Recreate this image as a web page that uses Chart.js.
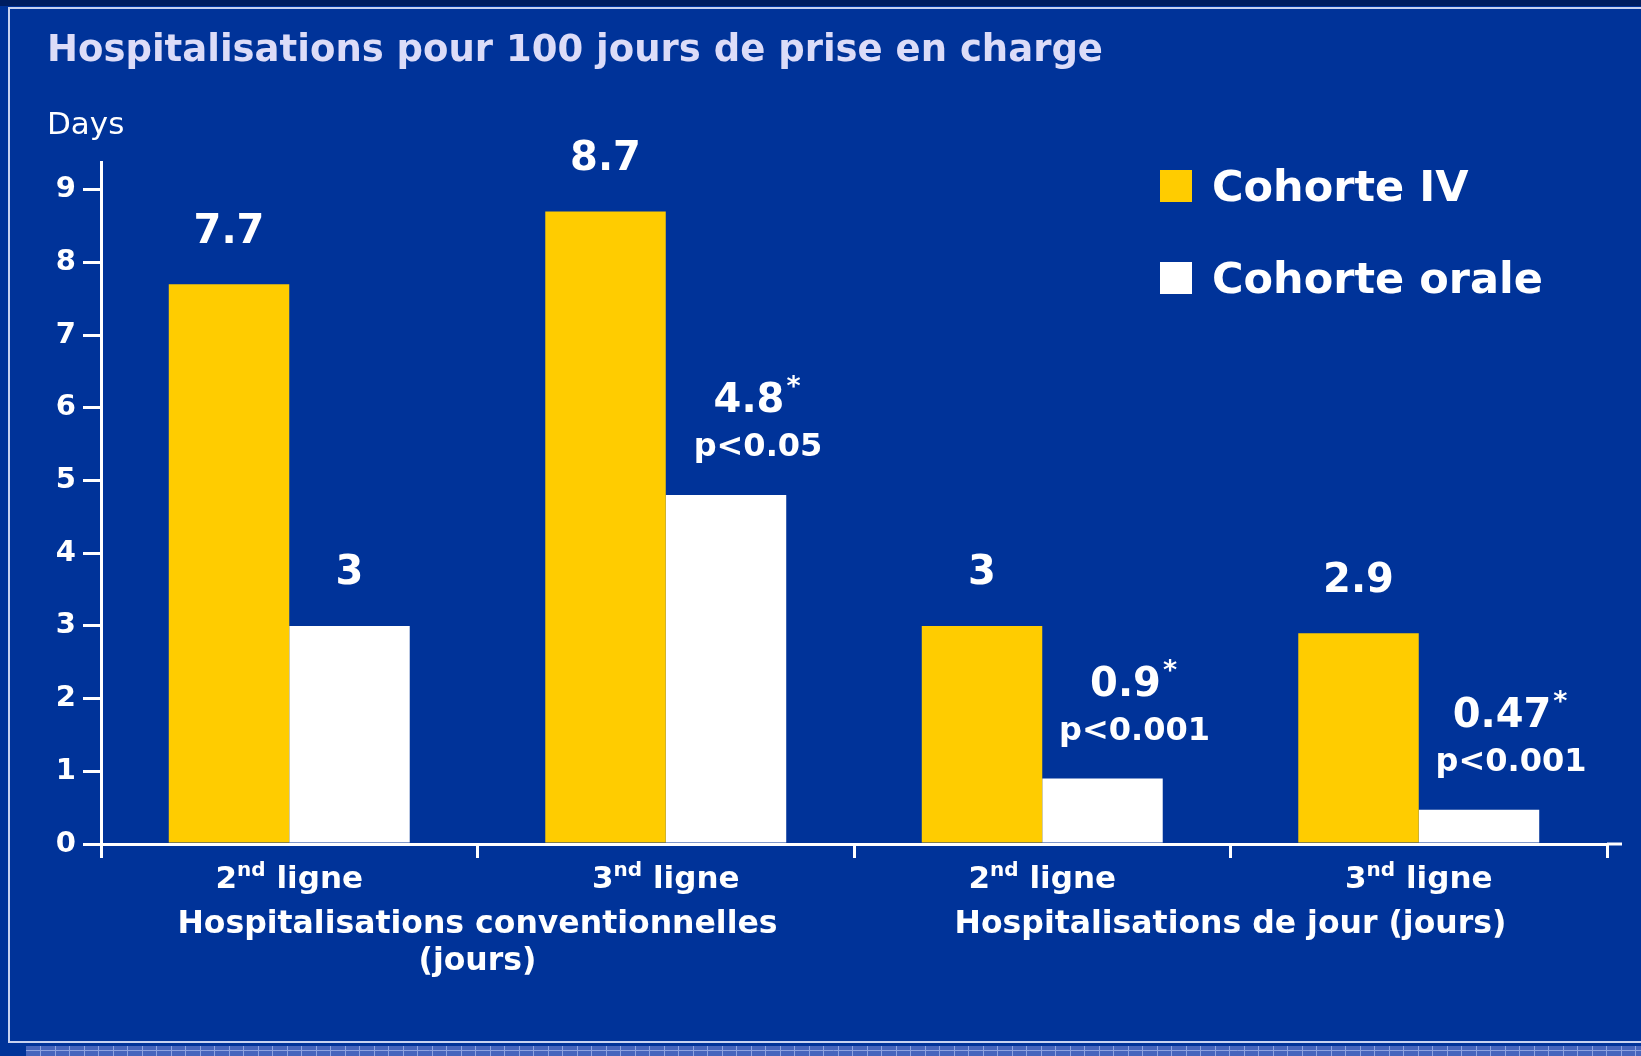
<!DOCTYPE html>
<html>
<head>
<meta charset="utf-8">
<title>Hospitalisations pour 100 jours de prise en charge</title>
<script src="https://cdn.jsdelivr.net/npm/chart.js@4.4.1/dist/chart.umd.min.js"></script>
<style>
    body { margin: 0; background: #003399; overflow: hidden; }
    #wrap { width: 1641px; height: 1056px; }
</style>
</head>
<body>
<div id="wrap"><canvas id="myChart" width="1641" height="1056"></canvas></div>
<script>
const chartTitle = 'Hospitalisations pour 100 jours de prise en charge';
const yAxisTitle = 'Days';
const categories = ['2nd ligne', '3nd ligne', '2nd ligne', '3nd ligne'];
const groupTitles = [['Hospitalisations conventionnelles', '(jours)'], ['Hospitalisations de jour (jours)']];
const groupSpans = [[0, 1], [2, 3]];
const seriesNames = ['Cohorte IV', 'Cohorte orale'];
const ivValues = [7.7, 8.7, 3, 2.9];
const oralValues = [3, 4.8, 0.9, 0.47];
const ivLabels = ['7.7', '8.7', '3', '2.9'];
const oralLabels = ['3', '4.8', '0.9', '0.47'];
const oralStars = [false, true, true, true];
const oralPValues = ['', 'p<0.05', 'p<0.001', 'p<0.001'];
const yTicks = [0, 1, 2, 3, 4, 5, 6, 7, 8, 9];

const FONT = '"DejaVu Sans", Verdana, sans-serif';
const ctx = document.getElementById('myChart').getContext('2d');

// panel background, frame and the textured strip at the bottom
const backdrop = {
    id: 'backdrop',
    beforeDraw(chart) {
        const c = chart.ctx;
        const w = chart.width, h = chart.height;
        c.save();
        c.fillStyle = '#003399';
        c.fillRect(0, 0, w, h);
        c.fillStyle = '#001e60';
        c.fillRect(0, 0, w, 6);
        c.strokeStyle = '#c8d2f0';
        c.lineWidth = 2;
        c.strokeRect(9, 8, w + 20, 1034);
        c.fillStyle = '#4665bd';
        c.fillRect(26, 1046, w - 26, h - 1046);
        c.strokeStyle = '#8ea3e0';
        c.lineWidth = 1;
        c.beginPath();
        for (let x = 40; x < w; x += 14.5) {
            c.moveTo(Math.round(x) + 0.5, 1046);
            c.lineTo(Math.round(x) + 0.5, h);
        }
        c.moveTo(26, 1050.5);
        c.lineTo(w, 1050.5);
        c.stroke();
        c.fillStyle = '#dcdcf8';
        c.font = `bold 37px ${FONT}`;
        c.textBaseline = 'middle';
        c.fillText(chartTitle, 47, 51);
        c.fillStyle = '#ffffff';
        c.font = `31px ${FONT}`;
        c.fillText(yAxisTitle, 47, 126);
        c.restore();
    }
};

function drawOrdinal(c, text, cx, y) {
    const m = text.match(/^(\d+)(st|nd|rd|th)(.*)$/);
    const main = `bold 31px ${FONT}`, sup = `bold 20px ${FONT}`;
    c.font = main;
    const w1 = c.measureText(m[1]).width, w3 = c.measureText(m[3]).width;
    c.font = sup;
    const w2 = c.measureText(m[2]).width;
    let x = cx - (w1 + w2 + w3) / 2;
    c.textAlign = 'left';
    c.font = main;
    c.fillText(m[1], x, y);
    c.font = sup;
    c.fillText(m[2], x + w1, y - 9);
    c.font = main;
    c.fillText(m[3], x + w1 + w2, y);
}

const axisLabels = {
    id: 'axisLabels',
    afterDraw(chart) {
        const c = chart.ctx, xs = chart.scales.x, area = chart.chartArea;
        c.save();
        c.fillStyle = '#ffffff';
        c.textBaseline = 'middle';
        categories.forEach((cat, i) => drawOrdinal(c, cat, xs.getPixelForValue(i), area.bottom + 36));
        c.font = `bold 31.5px ${FONT}`;
        c.textAlign = 'center';
        groupTitles.forEach((lines, g) => {
            const cx = (xs.getPixelForValue(groupSpans[g][0]) + xs.getPixelForValue(groupSpans[g][1])) / 2;
            lines.forEach((line, k) => c.fillText(line, cx, area.bottom + 81 + k * 37));
        });
        // axis line runs a little past the last tick
        c.strokeStyle = '#ffffff';
        c.lineWidth = 3;
        c.beginPath();
        c.moveTo(area.right, area.bottom);
        c.lineTo(area.right + 15, area.bottom);
        c.stroke();
        // legend
        const lg = chart.options.plugins.boxLegend;
        chart.data.datasets.forEach((ds, i) => {
            const y = lg.top + i * lg.gap;
            c.fillStyle = ds.backgroundColor;
            c.fillRect(lg.left, y, lg.box, lg.box);
            c.fillStyle = '#ffffff';
            c.font = `bold 43px ${FONT}`;
            c.textAlign = 'left';
            c.fillText(ds.label, lg.left + lg.box + 20, y + lg.box / 2 + 4);
        });
        c.restore();
    }
};

const valueLabels = {
    id: 'valueLabels',
    afterDatasetsDraw(chart) {
        const c = chart.ctx;
        const opts = chart.options.plugins.valueLabels;
        c.save();
        c.fillStyle = '#ffffff';
        c.textBaseline = 'middle';
        c.textAlign = 'center';
        chart.data.datasets.forEach((ds, di) => {
            chart.getDatasetMeta(di).data.forEach((bar, i) => {
                const txt = ds.valueText[i];
                const star = ds.stars ? ds.stars[i] : false;
                const pv = ds.pText ? ds.pText[i] : '';
                let ny = bar.y - 52;
                if (pv) {
                    c.font = `bold 32px ${FONT}`;
                    c.fillText(pv, bar.x + opts.pShift, bar.y - 47);
                    ny = bar.y - 93;
                }
                const nx = star ? bar.x + opts.starShift : bar.x;
                c.font = `bold 40px ${FONT}`;
                c.fillText(txt, nx, ny);
                if (star) {
                    const w = c.measureText(txt).width;
                    c.font = `bold 27px ${FONT}`;
                    c.textAlign = 'left';
                    c.fillText('*', nx + w / 2 + 2, ny - 14);
                    c.textAlign = 'center';
                }
            });
        });
        c.restore();
    }
};

let chart = new Chart(ctx, {
    type: 'bar',
    data: {
        labels: categories,
        datasets: [
            {label: seriesNames[0], data: ivValues, backgroundColor: '#ffcc00', valueText: ivLabels},
            {label: seriesNames[1], data: oralValues, backgroundColor: '#ffffff', valueText: oralLabels, stars: oralStars, pText: oralPValues},
        ],
    },
    options: {
        responsive: false,
        animation: false,
        devicePixelRatio: 1,
        layout: {padding: {left: 0, right: 34, top: 162, bottom: 0}},
        datasets: {bar: {categoryPercentage: 0.64, barPercentage: 1.0}},
        plugins: {
            legend: {display: false},
            tooltip: {enabled: false},
            valueLabels: {starShift: 23, pShift: 32},
            boxLegend: {left: 1160, top: 170, box: 32, gap: 92},
        },
        scales: {
            x: {
                offset: true,
                grid: {display: true, offset: true, drawOnChartArea: false, drawTicks: true, tickLength: 14, color: '#ffffff', lineWidth: 3},
                border: {display: true, color: '#ffffff', width: 3},
                ticks: {display: false},
                afterFit: (scale) => { scale.height = 212; },
            },
            y: {
                min: 0,
                max: 9.38,
                afterBuildTicks: (scale) => { scale.ticks = yTicks.map(v => ({value: v})); },
                grid: {display: true, drawOnChartArea: false, drawTicks: true, tickLength: 18, color: '#ffffff', lineWidth: 3},
                border: {display: true, color: '#ffffff', width: 3},
                ticks: {color: '#ffffff', font: {family: FONT, size: 29, weight: 'bold'}, padding: 7},
                afterFit: (scale) => { scale.width = 101; },
            },
        },
    },
    plugins: [backdrop, valueLabels, axisLabels],
});
</script>
</body>
</html>
